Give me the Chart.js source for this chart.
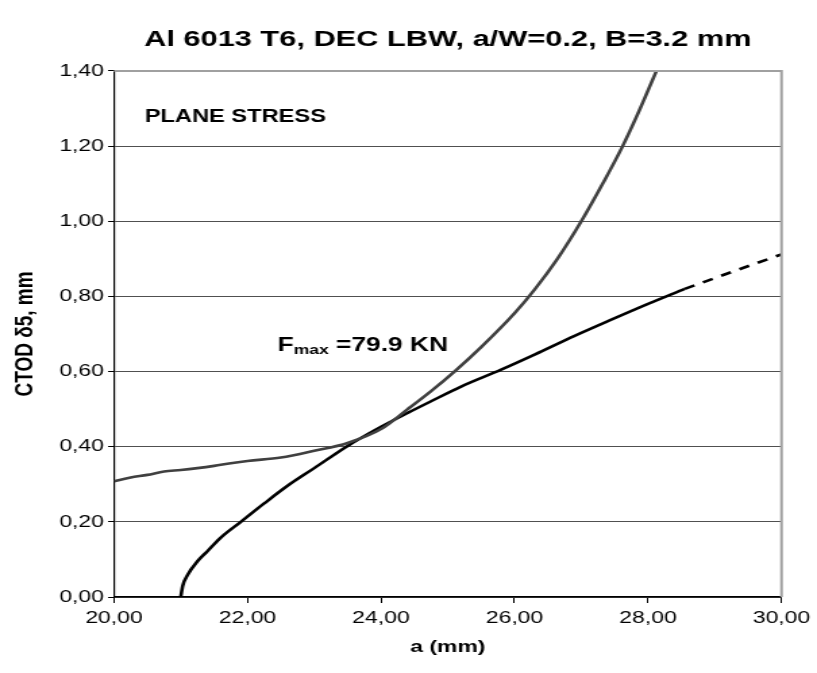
<!DOCTYPE html>
<html>
<head>
<meta charset="utf-8">
<script src="https://cdn.jsdelivr.net/npm/chart.js@4"></script>
<style>
  html, body { margin: 0; padding: 0; background: #fff; }
  /* the reference is an Excel chart stretched sideways, so the canvas is drawn narrower and widened by CSS */
  #chart { display: block; width: 817px !important; height: 673px !important; }
</style>
</head>
<body>
<canvas id="chart" width="605" height="673" style="width:817px;height:673px"></canvas>
<script>
// Data
const grayA = [20.00, 20.25, 20.50, 20.75, 21.00, 21.25, 21.50, 21.75, 22.00, 22.50, 23.00, 23.50, 24.00, 24.40, 24.75, 25.10, 25.50, 26.00, 26.30, 26.65, 27.00, 27.33, 27.62, 27.87, 28.15];
const grayCtod = [0.308, 0.318, 0.325, 0.334, 0.338, 0.343, 0.349, 0.356, 0.362, 0.371, 0.389, 0.410, 0.447, 0.500, 0.548, 0.600, 0.665, 0.755, 0.818, 0.902, 1.000, 1.103, 1.200, 1.295, 1.410];

const blackA = [21.00, 21.03, 21.10, 21.25, 21.40, 21.60, 21.90, 22.25, 22.60, 23.00, 23.50, 24.00, 24.40, 24.75, 25.20, 25.80, 26.30, 26.90, 27.45, 28.00, 28.55];
const blackCtod = [0.000, 0.030, 0.058, 0.095, 0.122, 0.158, 0.200, 0.249, 0.296, 0.343, 0.402, 0.453, 0.490, 0.521, 0.560, 0.605, 0.645, 0.695, 0.738, 0.780, 0.820];

const dashA = [28.55, 29.30, 30.00];
const dashCtod = [0.820, 0.868, 0.912];

const xTicks = [20, 22, 24, 26, 28, 30];
const yTicks = [0, 0.2, 0.4, 0.6, 0.8, 1.0, 1.2, 1.4];

const toPoints = (xs, ys) => xs.map((x, i) => ({ x: x, y: ys[i] }));
const comma = v => Number(v).toFixed(2).replace('.', ',');

const FONT = "'Liberation Sans', Arial, sans-serif";

// plot frame (grey top/right edges) and the two text labels
const extras = {
  id: 'extras',
  afterDraw(chart) {
    const { ctx, chartArea: ca, scales } = chart;
    ctx.save();
    ctx.strokeStyle = '#a0a0a0';
    ctx.lineWidth = 2;
    ctx.beginPath();
    ctx.moveTo(ca.left, ca.top);
    ctx.lineTo(ca.right, ca.top);
    ctx.lineTo(ca.right, ca.bottom);
    ctx.stroke();

    ctx.fillStyle = '#000';
    ctx.textBaseline = 'alphabetic';
    ctx.textAlign = 'left';
    ctx.font = 'bold 17.5px ' + FONT;
    ctx.fillText('PLANE STRESS', scales.x.getPixelForValue(20.46), scales.y.getPixelForValue(1.265));

    let x = scales.x.getPixelForValue(22.45);
    const y = scales.y.getPixelForValue(0.655);
    ctx.font = 'bold 19.5px ' + FONT;
    ctx.fillText('F', x, y);
    x += ctx.measureText('F').width;
    ctx.font = 'bold 13px ' + FONT;
    ctx.fillText('max', x, y + 3);
    x += ctx.measureText('max').width;
    ctx.font = 'bold 19.5px ' + FONT;
    ctx.fillText(' =79.9 KN', x, y);
    ctx.restore();
  }
};

const ctx = document.getElementById('chart').getContext('2d');
new Chart(ctx, {
  type: 'line',
  data: {
    datasets: [
      {
        data: toPoints(grayA, grayCtod),
        borderColor: '#404040',
        borderWidth: 2.6,
        pointRadius: 0,
        cubicInterpolationMode: 'monotone',
        fill: false
      },
      {
        data: toPoints(blackA, blackCtod),
        borderColor: '#000000',
        borderWidth: 2.6,
        pointRadius: 0,
        cubicInterpolationMode: 'monotone',
        fill: false
      },
      {
        data: toPoints(dashA, dashCtod),
        borderColor: '#000000',
        borderWidth: 2.6,
        borderDash: [8, 7],
        pointRadius: 0,
        fill: false
      }
    ]
  },
  options: {
    responsive: false,
    animation: false,
    layout: { padding: { left: 0, right: 25.7, top: 0, bottom: 0 } },
    plugins: {
      legend: { display: false },
      tooltip: { enabled: false },
      title: {
        display: true,
        fullSize: false,
        text: 'Al 6013 T6, DEC LBW, a/W=0.2, B=3.2 mm',
        color: '#000',
        font: { family: FONT, size: 22.8, weight: 'bold' },
        padding: { top: 26.3, bottom: 17.3 }
      }
    },
    scales: {
      x: {
        type: 'linear',
        min: 20,
        max: 30,
        afterFit: s => { s.height = 76; },
        afterBuildTicks: s => { s.ticks = xTicks.map(v => ({ value: v })); },
        ticks: {
          color: '#000',
          font: { family: FONT, size: 17 },
          padding: 5,
          maxRotation: 0,
          callback: comma
        },
        grid: { drawOnChartArea: false, drawTicks: true, tickLength: 6, tickColor: '#000' },
        border: { color: '#000', width: 1.5 },
        title: {
          display: true,
          text: 'a (mm)',
          color: '#000',
          font: { family: FONT, size: 17, weight: 'bold' },
          padding: { top: 0, bottom: 15.8 }
        }
      },
      y: {
        min: 0,
        max: 1.4,
        afterFit: s => { s.width = 84.4; },
        afterBuildTicks: s => { s.ticks = yTicks.map(v => ({ value: v })); },
        ticks: {
          color: '#000',
          font: { family: FONT, size: 17 },
          padding: 3,
          callback: comma
        },
        grid: {
          color: c => (c.tick && c.tick.value >= 1.4 ? 'rgba(0,0,0,0)' : '#505050'),
          lineWidth: 1,
          drawTicks: true,
          tickLength: 4.4,
          tickColor: '#000'
        },
        border: { color: '#000', width: 1.2 },
        title: {
          display: true,
          text: 'CTOD δ5, mm',
          color: '#000',
          font: { family: FONT, size: 19, weight: 'bold' },
          padding: { top: 7, bottom: 0 }
        }
      }
    }
  },
  plugins: [extras]
});
</script>
</body>
</html>
